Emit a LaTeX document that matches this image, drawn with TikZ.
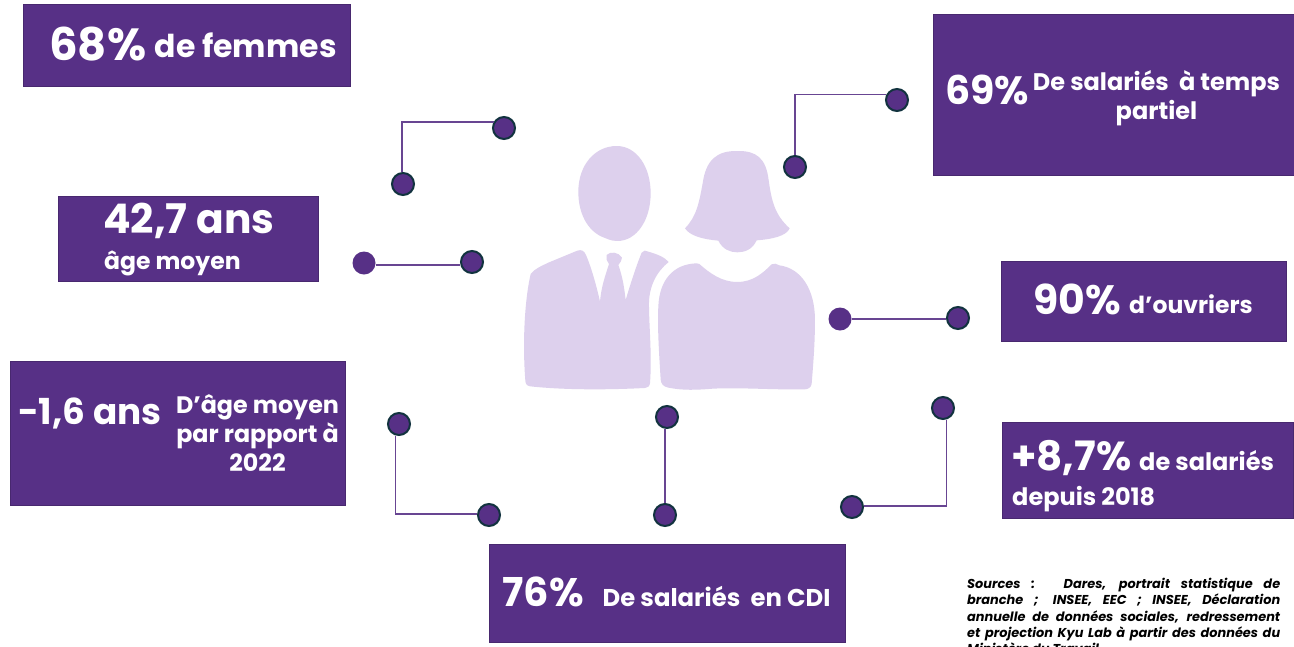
\documentclass[tikz,border=0pt]{standalone}
\usepackage{fontspec}
\setmainfont{Poppins}[BoldFont={Poppins Bold},ItalicFont={Poppins Bold Italic}]
\definecolor{boxpurple}{HTML}{573086}
\definecolor{boxedge}{HTML}{48286F}
\definecolor{iconlilac}{HTML}{DDD0ED}
\definecolor{dotedge}{HTML}{12333F}
\newcommand{\fs}[1]{\fontsize{#1}{#1}\selectfont\bfseries}
\tikzset{
  panel/.style={draw=boxedge,line width=1.8pt,fill=boxpurple,inner sep=0pt,anchor=north west},
  txt/.style={text=white,inner sep=0pt,anchor=base west},
  txtc/.style={text=white,inner sep=0pt,anchor=base},
  ringdot/.style={circle,draw=dotedge,line width=2pt,fill=boxpurple,minimum size=22pt,inner sep=0pt},
  plaindot/.style={circle,fill=boxpurple,minimum size=23pt,inner sep=0pt},
  link/.style={draw=boxpurple!90!white,line width=1.1pt},
  icon/.style={fill=iconlilac,draw=none}
}
\begin{document}
\begin{tikzpicture}[x=1pt,y=-1pt]
\useasboundingbox (0,0) rectangle (1294,646);
\fill[white] (0,0) rectangle (1294,646);
% panels
\node[panel,minimum width=327pt,minimum height=82pt] (pA) at (22.5,3.5) {};
\node[panel,minimum width=260pt,minimum height=85pt] (pB) at (57.5,195.5) {};
\node[panel,minimum width=335pt,minimum height=144pt] (pC) at (9.5,360.5) {};
\node[panel,minimum width=356pt,minimum height=98pt] (pD) at (488.5,543.5) {};
\node[panel,minimum width=361pt,minimum height=161pt] (pE) at (932.5,13.5) {};
\node[panel,minimum width=285pt,minimum height=80pt] (pF) at (1000.5,260.5) {};
\node[panel,minimum width=291pt,minimum height=96pt] (pG) at (1001.5,421.5) {};
% panel texts
\node[txt] (tA1) at (49,60) {\fs{45}68\%};
\node[txt] (tA2) at (154.5,57) {\fs{31.5}de femmes};
\node[txt] (tB1) at (103,233) {\fs{40.8}42,7 ans};
\node[txt] (tB2) at (104,269) {\fs{23.5}âge moyen};
\node[txt] (tC1) at (18,424) {\fs{35.8}-1,6 ans};
\node[txtc] (tC2) at (257.5,413) {\fs{23.8}D’âge moyen};
\node[txtc] (tC3) at (257.5,442) {\fs{23.8}par rapport à};
\node[txtc] (tC4) at (257.5,471) {\fs{23.8}2022};
\node[txt] (tD1) at (502.5,606) {\fs{39.8}76\%};
\node[txt] (tD2) at (602.5,606) {\fs{24.3}De salariés\space\space en CDI};
\node[txt] (tE1) at (945,104) {\fs{39.5}69\%};
\node[txtc] (tE2) at (1156.5,90) {\fs{24}De salariés\space\space à temps};
\node[txtc] (tE3) at (1156.5,119) {\fs{24}partiel};
\node[txt] (tF1) at (1033,314) {\fs{41}90\%};
\node[txt] (tF2) at (1129,313) {\fs{23.5}d’ouvriers};
\node[txt] (tG1) at (1011,470) {\fs{40.5}+8,7\%};
\node[txt] (tG2) at (1139,470) {\fs{24}de salariés};
\node[txt] (tG3) at (1012,505) {\fs{24}depuis 2018};
% sources
\node[inner sep=0pt,anchor=north west,text width=313pt,align=justify,text=black,font={\fontsize{12.9}{16.3}\selectfont\itshape}] (src) at (967,578)
 {Sources :\hspace{9pt} Dares, portrait statistique de\linebreak
 branche ; INSEE, EEC ; INSEE, Déclaration\linebreak
 annuelle de données sociales, redressement\linebreak
 et projection Kyu Lab à partir des données du\linebreak
 Ministère du Travail\par};
% figures
\begin{scope}[shift={(500,130)},x=0.3333pt,y=-0.3333pt]
\fill[icon] (350,48) .. controls (410,48) and (452,110) .. (452,190)
 .. controls (452,270) and (410,333) .. (352,333)
 .. controls (330,333) and (320,325) .. (305,320)
 .. controls (262,300) and (235,250) .. (235,185)
 .. controls (235,105) and (285,48) .. (350,48) -- cycle;
\fill[icon] (92,432) .. controls (105,415) and (125,408) .. (145,398)
 -- (232,362) .. controls (245,358) and (252,362) .. (258,375)
 .. controls (275,415) and (290,470) .. (300,515)
 .. controls (304,470) and (315,440) .. (327,402)
 .. controls (320,395) and (318,385) .. (320,375)
 .. controls (330,364) and (355,365) .. (366,383)
 .. controls (366,392) and (360,398) .. (355,405)
 .. controls (368,440) and (373,475) .. (377,510)
 .. controls (392,460) and (408,410) .. (425,368)
 .. controls (430,360) and (438,361) .. (445,365)
 .. controls (470,372) and (495,382) .. (506,396)
 .. controls (470,425) and (445,470) .. (447,530)
 .. controls (448,600) and (456,680) .. (450,760)
 .. controls (448,770) and (443,773) .. (435,774)
 .. controls (320,780) and (190,780) .. (90,769)
 .. controls (80,767) and (77,762) .. (76,752)
 .. controls (68,650) and (72,520) .. (92,432) -- cycle;
\fill[icon] (712,63) .. controls (770,62) and (798,85) .. (806,150)
 .. controls (815,215) and (825,255) .. (869,295)
 .. controls (860,318) and (815,328) .. (770,331)
 .. controls (758,358) and (735,367) .. (712,367)
 .. controls (690,367) and (668,358) .. (655,332)
 .. controls (610,328) and (570,318) .. (555,295)
 .. controls (590,260) and (598,215) .. (608,160)
 .. controls (618,90) and (650,62) .. (712,63) -- cycle;
\fill[icon] (598,402) .. controls (630,430) and (665,456) .. (712,456)
 .. controls (760,456) and (790,428) .. (815,403)
 .. controls (822,398) and (830,402) .. (838,406)
 .. controls (905,415) and (945,480) .. (945,570)
 .. controls (945,640) and (940,700) .. (935,762)
 .. controls (933,772) and (925,778) .. (915,778)
 .. controls (820,780) and (720,772) .. (640,776)
 .. controls (590,780) and (550,782) .. (505,773)
 .. controls (490,770) and (483,762) .. (482,748)
 .. controls (478,680) and (472,600) .. (475,530)
 .. controls (478,450) and (520,402) .. (590,400)
 -- cycle;
\end{scope}
% dots
\node[ringdot] (a1) at (504,128) {};
\node[ringdot] (a2) at (403,184) {};
\node[plaindot] (b1) at (364,263) {};
\node[ringdot] (b2) at (472,262) {};
\node[ringdot] (c1) at (795,167) {};
\node[ringdot] (c2) at (897,100) {};
\node[plaindot] (d1) at (840,319) {};
\node[ringdot] (d2) at (958,318) {};
\node[ringdot] (e1) at (399,424) {};
\node[ringdot] (e2) at (489,515) {};
\node[ringdot] (f1) at (667,417) {};
\node[ringdot] (f2) at (665,515) {};
\node[ringdot] (g1) at (943,408) {};
\node[ringdot] (g2) at (852,507) {};
% connectors
\draw[link] (a2.95) |- (a1.150);
\draw[link] (b1.-10) -- (b1.-10 -| b2.west);
\draw[link] (c1.north) |- (c2.155);
\draw[link] (d1.east) -- (d1.east -| d2.west);
\draw[link] (e1.255) |- (e2.175);
\draw[link] (f2.north) -- (f2.north |- f1.south);
\draw[link] (g1.-75) |- (g2.5);
\end{tikzpicture}
\end{document}
